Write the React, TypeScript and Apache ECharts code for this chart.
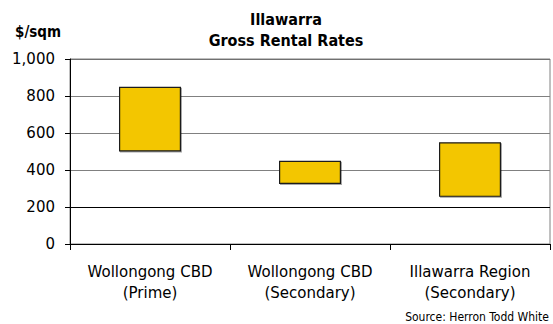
import React, { useEffect, useRef } from "react";
import * as echarts from "echarts";

// Gross rental rate ranges ($/sqm) for Illawarra office markets
const categories = ["Wollongong CBD\n(Prime)", "Wollongong CBD\n(Secondary)", "Illawarra Region\n(Secondary)"];
const lowRates = [500, 325, 255];
const highRates = [850, 450, 550];
const yTicks = { min: 0, max: 1000, interval: 200 };

const FONT = "'DejaVu Sans', sans-serif";
const FONT_NARROW = "'DejaVu Sans Condensed', 'DejaVu Sans', sans-serif";

export default function App() {
  const ref = useRef<HTMLDivElement>(null);

  useEffect(() => {
    if (!ref.current) return;
    const chart = echarts.init(ref.current, undefined, { renderer: "svg" });
    const spans = highRates.map((h, i) => h - lowRates[i]);

    chart.setOption({
      animation: false,
      backgroundColor: "#ffffff",
      textStyle: { fontFamily: FONT },
      grid: {
        left: 70,
        right: 3,
        top: 59,
        bottom: 80,
        show: true,
        borderColor: "#808080",
        borderWidth: 1,
      },
      graphic: [
        {
          type: "text",
          x: 286,
          y: 9,
          style: {
            text: "Illawarra\nGross Rental Rates",
            align: "center",
            verticalAlign: "top",
            font: `bold 16px ${FONT_NARROW}`,
            lineHeight: 21,
            fill: "#000",
          },
          z: 10,
        },
        {
          type: "text",
          x: 15,
          y: 24,
          style: { text: "$/sqm", font: `bold 15px ${FONT_NARROW}`, fill: "#000" },
        },
        {
          type: "text",
          x: 549,
          y: 311,
          style: {
            text: "Source: Herron Todd White",
            align: "right",
            font: `12px ${FONT_NARROW}`,
            fill: "#000",
          },
        },
      ],
      xAxis: {
        type: "category",
        data: categories,
        boundaryGap: true,
        axisLine: { lineStyle: { color: "#000", width: 1 } },
        axisTick: { show: true, length: 6, lineStyle: { color: "#000" } },
        axisLabel: {
          interval: 0,
          hideOverlap: false,
          color: "#000",
          fontSize: 15,
          fontFamily: FONT,
          lineHeight: 21,
          margin: 17,
        },
        splitLine: { show: false },
      },
      yAxis: {
        type: "value",
        min: yTicks.min,
        max: yTicks.max,
        interval: yTicks.interval,
        axisLine: { show: true, lineStyle: { color: "#000", width: 1 } },
        axisTick: { show: true, length: 5, lineStyle: { color: "#000" } },
        axisLabel: {
          color: "#000",
          fontSize: 15,
          fontFamily: FONT,
          margin: 15,
          formatter: (v: number) => v.toLocaleString("en-US"),
        },
        splitLine: {
          show: true,
          lineStyle: {
            color: ["#000", "#000", "#808080", "#808080", "#808080", "#707070"],
            width: 1,
          },
        },
      },
      series: [
        {
          name: "Low",
          type: "bar",
          stack: "range",
          data: lowRates,
          barWidth: 62,
          itemStyle: { color: "transparent" },
          silent: true,
        },
        {
          name: "Range",
          type: "bar",
          stack: "range",
          data: spans,
          barWidth: 62,
          itemStyle: {
            color: "#F3C600",
            borderColor: "#1a1a1a",
            borderWidth: 1.2,
            shadowColor: "rgba(0,0,0,0.35)",
            shadowBlur: 1,
            shadowOffsetX: 1,
            shadowOffsetY: 1,
          },
        },
      ],
    });

    return () => chart.dispose();
  }, []);

  return <div ref={ref} style={{ width: 553, height: 324, position: "absolute", left: 0, top: 0 }} />;
}
